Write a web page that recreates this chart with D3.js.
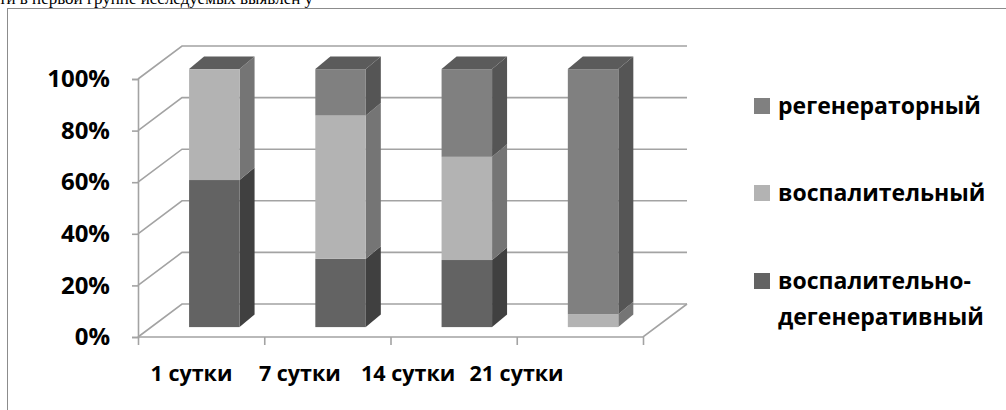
<!DOCTYPE html>
<html>
<head>
<meta charset="utf-8">
<script src="https://cdn.jsdelivr.net/npm/d3@7"></script>
<style>
  body { margin: 0; background: #fff; }
  svg { display: block; }
  .lbl { font-family: 'Open Sans', sans-serif; font-weight: bold; fill: #000; }
</style>
</head>
<body>
<svg id="chart" width="1006" height="410"></svg>
<script>
// chart values
const categories = ['1 сутки', '7 сутки', '14 сутки', '21 сутки'];
const seriesNames = ['воспалительно-дегенеративный', 'воспалительный', 'регенераторный'];
const degenerative = [57, 26.5, 26, 0];
const inflammatory = [43, 55.5, 40, 5];
const regenerative = [0, 18, 34, 95];
const yTicks = [0, 20, 40, 60, 80, 100];

const svgWidth = 1006, svgHeight = 410;
// plot box (front plane)
const plotLeft = 138, plotRight = 643, plotBottom = 337, plotTop = 79;
// depth of the 3D box and of the bars
const depth = { x: 44, y: -33 };
const barFront = 0.3;
const barDepth = { x: 15, y: -12.5 };

const colors = [
  { front: '#636363', side: '#404040', top: '#4f4f4f' },
  { front: '#b3b3b3', side: '#757575', top: '#5d5d5d' },
  { front: '#808080', side: '#555555', top: '#5b5b5b' }
];
const gridColor = '#a3a3a3';

const svg = d3.select('#chart');

// frame of the embedded chart
svg.append('rect')
  .attr('x', 7.5).attr('y', 8.5)
  .attr('width', 1100).attr('height', 500)
  .attr('fill', 'none').attr('stroke', '#8c8c8c');

// cut off text line of the page above the chart
svg.append('text')
  .attr('x', -1).attr('y', 4)
  .attr('font-family', "'Liberation Serif', serif")
  .attr('font-size', 17)
  .text('ти в первой группе исследуемых выявлен у');

const y = d3.scaleLinear().domain([0, 100]).range([plotBottom, plotTop]);
const x = d3.scaleBand().domain(categories).range([plotLeft, plotRight])
  .paddingInner(0.6).paddingOuter(0.3);
const xTicks = d3.scaleLinear().domain([0, categories.length]).range([plotLeft, plotRight]);
const xLabel = d3.scalePoint().domain(categories).range([191.5, 516.5]);

const grid = svg.append('g')
  .attr('fill', 'none').attr('stroke', gridColor).attr('stroke-width', 1.6);

// side wall diagonals + back wall horizontals
yTicks.forEach(t => {
  const yy = y(t);
  grid.append('path')
    .attr('d', `M${plotLeft},${yy}L${plotLeft + depth.x},${yy + depth.y}L${plotRight + depth.x},${yy + depth.y}`);
});
// floor front-right edge
grid.append('path')
  .attr('d', `M${plotLeft},${plotBottom}L${plotRight},${plotBottom}L${plotRight + depth.x},${plotBottom + depth.y}`);

// y axis
const yAxis = svg.append('g')
  .attr('transform', `translate(${plotLeft},0)`)
  .call(d3.axisLeft(y).tickValues(yTicks).tickFormat(d => d + '%').tickSize(6).tickPadding(22));
yAxis.select('.domain').attr('stroke', gridColor).attr('stroke-width', 1.6);
yAxis.selectAll('.tick line').attr('stroke', gridColor).attr('stroke-width', 1.6);
yAxis.selectAll('.tick text').attr('class', 'lbl').attr('font-size', 24);

// x axis ticks
const xAxis = svg.append('g')
  .attr('transform', `translate(0,${plotBottom})`)
  .call(d3.axisBottom(xTicks).ticks(categories.length).tickFormat('').tickSize(8).tickSizeOuter(0));
xAxis.select('.domain').remove();
xAxis.selectAll('.tick line').attr('stroke', gridColor).attr('stroke-width', 1.6);

// x labels
svg.append('g').selectAll('text')
  .data(categories)
  .join('text')
  .attr('class', 'lbl')
  .attr('font-size', 21.5)
  .attr('text-anchor', 'middle')
  .attr('x', d => xLabel(d))
  .attr('y', 381)
  .text(d => d);

// stacked 3D bars
const stack = categories.map((c, i) => {
  const vals = [degenerative[i], inflammatory[i], regenerative[i]];
  let acc = 0;
  return vals.map((v, s) => {
    const seg = { cat: c, s, y0: acc, y1: acc + v };
    acc += v;
    return seg;
  }).filter(seg => seg.y1 > seg.y0);
});

const bars = svg.append('g');
stack.forEach(segs => {
  const g = bars.append('g');
  segs.forEach((seg, k) => {
    const x0 = x(seg.cat) + barFront * depth.x;
    const x1 = x0 + x.bandwidth();
    const yb = y(seg.y0) + barFront * depth.y;
    const yt = y(seg.y1) + barFront * depth.y;
    const c = colors[seg.s];
    // side face
    g.append('path')
      .attr('d', `M${x1},${yb}L${x1 + barDepth.x},${yb + barDepth.y}L${x1 + barDepth.x},${yt + barDepth.y}L${x1},${yt}Z`)
      .attr('fill', c.side);
    // front face
    g.append('rect')
      .attr('x', x0).attr('y', yt)
      .attr('width', x1 - x0).attr('height', yb - yt)
      .attr('fill', c.front);
    // top face on the highest segment
    if (k === segs.length - 1) {
      g.append('path')
        .attr('d', `M${x0},${yt}L${x0 + barDepth.x},${yt + barDepth.y}L${x1 + barDepth.x},${yt + barDepth.y}L${x1},${yt}Z`)
        .attr('fill', c.top);
    }
  });
});

// legend (top to bottom: regenerative, inflammatory, degenerative)
const legendItems = [
  { s: 2, lines: ['регенераторный'], y: 106 },
  { s: 1, lines: ['воспалительный'], y: 193 },
  { s: 0, lines: ['воспалительно-', 'дегенеративный'], y: 281 }
];
const legend = svg.append('g');
legendItems.forEach(item => {
  legend.append('rect')
    .attr('x', 754).attr('y', item.y - 8)
    .attr('width', 16).attr('height', 16)
    .attr('fill', colors[item.s].front);
  item.lines.forEach((line, i) => {
    legend.append('text')
      .attr('class', 'lbl')
      .attr('font-size', 23)
      .attr('x', 778)
      .attr('y', item.y + i * 36 + 8)
      .text(line);
  });
});
</script>
</body>
</html>
